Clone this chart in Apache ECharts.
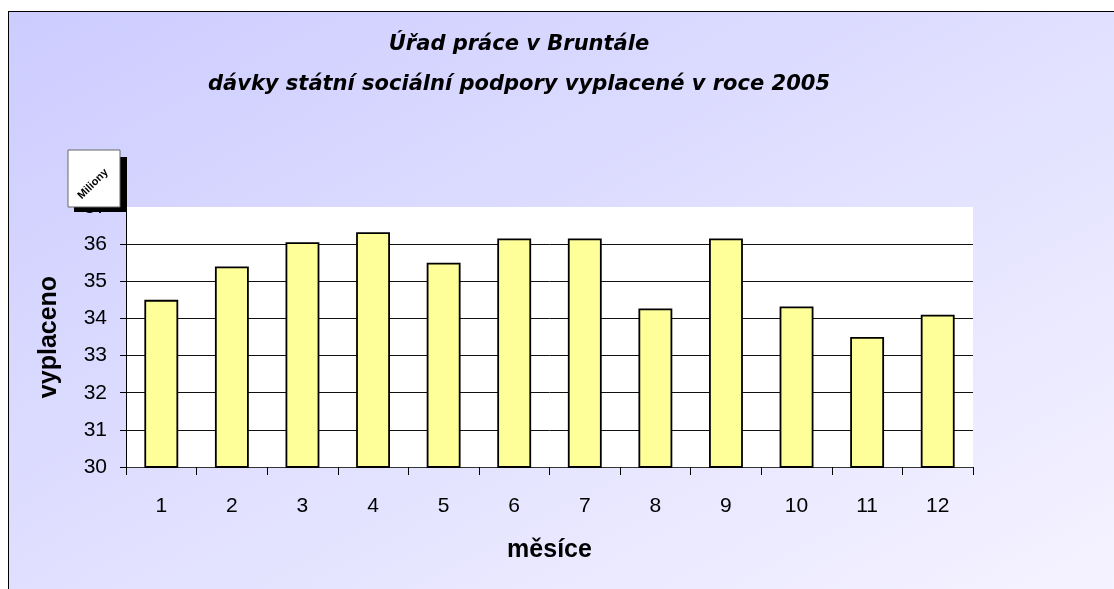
<!DOCTYPE html>
<html>
<head>
<meta charset="utf-8">
<script src="https://cdn.jsdelivr.net/npm/echarts@6/dist/echarts.min.js"></script>
<style>
html,body{margin:0;padding:0;width:1114px;height:589px;overflow:hidden;background:#fff;}
#bg{position:absolute;left:8px;top:11px;width:1120px;height:600px;box-sizing:border-box;border-top:1.5px solid #000;border-left:1.5px solid #000;background:linear-gradient(to bottom right,#ccccff,#f6f4ff);}
#chart{position:absolute;left:0;top:0;width:1114px;height:589px;}
</style>
</head>
<body>
<div id="bg"></div>
<div id="chart"></div>
<script>
const titleLines = ['Úřad práce v Bruntále', 'dávky státní sociální podpory vyplacené v roce 2005'];
const months = ['1','2','3','4','5','6','7','8','9','10','11','12'];
const paid = [34.5, 35.4, 36.05, 36.32, 35.5, 36.15, 36.15, 34.27, 36.15, 34.32, 33.5, 34.1];
const yMin = 30, yMax = 37, yStep = 1;
const xName = 'měsíce';
const yName = 'vyplaceno';
const unitLabel = 'Miliony';

const chart = echarts.init(document.getElementById('chart'), null, {renderer:'canvas'});
const font = 'Liberation Sans, Arial, sans-serif';
const titleFont = 'italic bold 21px "DejaVu Sans", Verdana, sans-serif';
chart.setOption({
  backgroundColor: 'transparent',
  animation: false,
  grid: {left: 126, right: 141, top: 207, bottom: 122, show: true, backgroundColor: '#ffffff', borderWidth: 0},
  xAxis: {
    type: 'category', data: months,
    name: xName, nameLocation: 'middle', nameGap: 71,
    nameTextStyle: {fontFamily: font, fontWeight: 'bold', fontSize: 25, color: '#000'},
    axisLine: {lineStyle: {color: '#333', width: 1}},
    axisTick: {show: true, length: 8, lineStyle: {color: '#000'}},
    axisLabel: {fontFamily: font, fontSize: 21, color: '#000', margin: 29},
    splitLine: {show: false}
  },
  yAxis: {
    type: 'value', min: yMin, max: yMax, interval: yStep,
    name: yName, nameLocation: 'middle', nameGap: 64,
    nameTextStyle: {fontFamily: font, fontWeight: 'bold', fontSize: 25, color: '#000'},
    axisLine: {show: true, lineStyle: {color: '#000', width: 1}},
    axisTick: {show: true, length: 6, inside: false, lineStyle: {color: '#000'}},
    axisLabel: {fontFamily: font, fontSize: 21, color: '#000', margin: 19},
    splitLine: {show: true, showMaxLine: false, lineStyle: {color: '#111', width: 1}}
  },
  series: [{
    type: 'bar', data: paid, barWidth: '48%',
    itemStyle: {color: '#ffff99', borderColor: '#000', borderWidth: 1.8}
  }],
  graphic: [
    {type: 'text', x: 519, y: 45, z: 100,
     style: {text: titleLines[0], textAlign: 'center', textVerticalAlign: 'middle',
       font: titleFont, fill: '#000'}},
    {type: 'text', x: 519, y: 85, z: 100,
     style: {text: titleLines[1], textAlign: 'center', textVerticalAlign: 'middle',
       font: titleFont, fill: '#000'}},
    {type: 'rect', z: 100, shape: {x: 74, y: 157, width: 53, height: 55}, style: {fill: '#000'}},
    {type: 'rect', z: 101, shape: {x: 68, y: 150, width: 52, height: 57}, style: {fill: '#fff', stroke: '#666', lineWidth: 1}},
    {type: 'text', z: 102, x: 93, y: 184, rotation: Math.PI / 4,
     style: {text: unitLabel, textAlign: 'center', textVerticalAlign: 'middle',
       font: 'bold 11px "Liberation Sans", Arial, sans-serif', fill: '#000'}}
  ]
});
</script>
</body>
</html>
